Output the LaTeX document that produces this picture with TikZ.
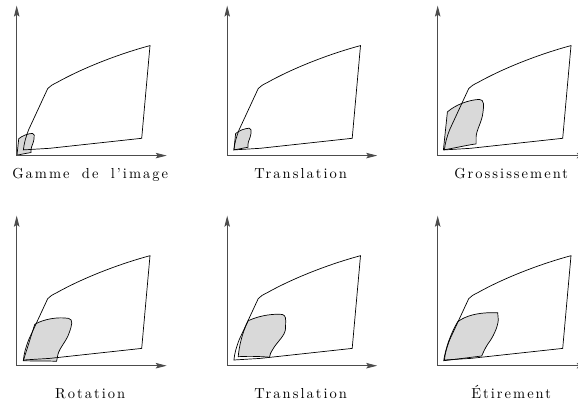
\documentclass[tikz,border=0pt]{standalone}
\usepackage{fontspec}
\usetikzlibrary{arrows.meta}
\newfontfamily\capfont{lmroman10-regular.otf}[LetterSpace=14,WordSpace=1.8]
\definecolor{PartGray}{gray}{0.85}
\definecolor{AxisGray}{gray}{0.3}

\tikzset{
  axis/.style={<->,draw=AxisGray,line width=0.9pt},
  gamut/.style={line width=0.7pt},
  imgpart/.style={fill=PartGray,draw=black,line width=0.7pt},
  caption/.style={anchor=base,font=\capfont\fontsize{14.5}{17}\selectfont},
}
% image gamut, lower left corner at the origin
\newcommand{\imgshape}{(0,0) -- (4,38) .. controls (12,45) and (25,50) .. (36,50.5)
  .. controls (41,50.5) and (40.5,44) .. (39.5,37)
  .. controls (38.5,28) and (33,20) .. (32.7,13) -- (32.7,6)
  .. controls (22,4.5) and (10,1.5) .. cycle}

\begin{document}
\begin{tikzpicture}[x=1pt,y=1pt,>={Stealth[length=11pt,width=5.5pt,inset=2pt]}]
  \useasboundingbox (0,0) rectangle (578,404);
  \clip (0,0) rectangle (578,404);
  \foreach \i/\px/\py in {1/16.7/248.4,2/227.2/248.4,3/437.7/248.4,
                          4/16.7/38.3,5/227.2/38.3,6/437.7/38.3}
    \coordinate (o\i) at (\px,\py);

  % the image gamut in each panel
  \begin{scope}[shift={(o1)},xshift=0.3pt,yshift=0.5pt,scale=0.43]
    \filldraw[imgpart] \imgshape;
  \end{scope}
  \begin{scope}[shift={(o2)},xshift=6.7pt,yshift=5.7pt,scale=0.43]
    \filldraw[imgpart] \imgshape;
  \end{scope}
  \begin{scope}[shift={(o3)},xshift=5.7pt,yshift=5.7pt]
    \filldraw[imgpart] \imgshape;
  \end{scope}
  \begin{scope}[shift={(o4)},xshift=6.6pt,yshift=5pt,rotate=-11.5]
    \filldraw[imgpart] \imgshape;
  \end{scope}
  \begin{scope}[shift={(o5)}]
    \filldraw[imgpart] (11,9) .. controls (12,20) and (15,33) .. (21,45)
      .. controls (30,49) and (40,51.5) .. (52,51.5)
      .. controls (57,51.5) and (58.5,50) .. (58.5,45) -- (58.3,37)
      .. controls (58,30) and (50,24) .. (46,17)
      .. controls (43.5,13) and (42.5,11) .. (42.3,8.5)
      .. controls (30,9.5) and (20,9.5) .. cycle;
  \end{scope}
  \begin{scope}[shift={(o6)}]
    \filldraw[imgpart] (6,5) .. controls (8,18) and (13,32) .. (20,44)
      .. controls (28,50) and (40,53) .. (54,53) -- (60,53)
      .. controls (61,50) .. (60.6,45.7)
      .. controls (60,38) and (55,28) .. (50.6,22.4)
      .. controls (47,17) and (45,12) .. (44,9.7)
      .. controls (30,8) and (15,6) .. cycle;
  \end{scope}

  % axes, device gamut and captions
  \foreach \i/\dy/\lab in {1/22.7/{Gamme de l’image},2/22.7/Translation,
                           3/22.7/Grossissement,4/32.6/Rotation,
                           5/32.6/Translation,6/32.6/Étirement}{
    \begin{scope}[shift={(o\i)}]
      \draw[axis] (0,150) -- (0,0) -- (150,0);
      \draw[gamut] (6.7,5.7) .. controls (20,6) .. (33,7.3) -- (125,17.3)
        -- (133.3,110) .. controls (100,101) and (65,87) .. (40,73)
        .. controls (36,71) and (33,69.5) .. (31,67) -- (12,26)
        .. controls (9,18) and (7.5,13) .. cycle;
      \node[caption] (cap\i) at (73.5,-\dy) {\lab};
    \end{scope}
  }
\end{tikzpicture}
\end{document}
